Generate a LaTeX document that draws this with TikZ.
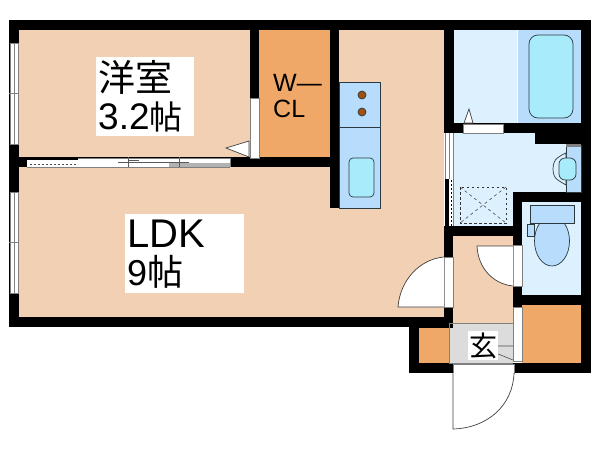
\documentclass[tikz,border=0pt]{standalone}
\usepackage{fontspec}
\setmainfont{Liberation Sans}
\newfontfamily\cjk{Noto Sans CJK JP}
\definecolor{peachc}{HTML}{F2D0B3}
\definecolor{orangec}{HTML}{F0A868}
\definecolor{paleblue}{HTML}{DCF0FE}
\definecolor{midblue}{HTML}{B8DCFB}
\definecolor{cyanc}{HTML}{A8ECFC}
\definecolor{grayc}{HTML}{DCDCDC}
\definecolor{brownc}{HTML}{A0500F}
\definecolor{linec}{HTML}{2A3A40}
\tikzstyle{wall} = [fill=black]
\tikzstyle{fixture} = [draw=linec, line width=0.7pt]
\tikzstyle{opening} = [fill=white, draw=gray, line width=0.5pt]
\tikzstyle{leaf} = [fill=white, draw=black!75, line width=0.7pt]
\tikzstyle{label} = [fill=white, inner ysep=0pt, inner xsep=2pt, anchor=north west, align=left]

\begin{document}
\begin{tikzpicture}[x=1pt, y=-1pt]
    \useasboundingbox (0,0) rectangle (600,450);
    % Rooms
    \fill[peachc] (19,30) rectangle (250,158);
    \fill[peachc] (19,167) rectangle (330,317);
    \fill[peachc] (339,30) rectangle (444,317);
    \fill[peachc] (330,208) rectangle (339,317);
    \fill[peachc] (453,236) rectangle (513,323);
    \fill[orangec] (259,30) rectangle (330,157);
    \fill[orangec] (522,305) rectangle (581,363);
    \fill[orangec] (419,328) rectangle (449,363);
    \fill[grayc] (449,323) rectangle (513,363);
    \fill[paleblue] (454,30) rectangle (518,123);
    \fill[midblue] (518,30) rectangle (581,123);
    \fill[paleblue] (454,133) rectangle (581,192);
    \fill[paleblue] (454,192) rectangle (513,226);
    \fill[paleblue] (522,202) rectangle (581,295);

    % Walls
    \path[wall] (9,20) rectangle (591,30);
    \path[wall] (9,20) rectangle (19,327);
    \path[wall] (9,317) rectangle (453,327);
    \path[wall] (19,157) rectangle (330,167);
    \path[wall] (250,30) rectangle (259,157);
    \path[wall] (330,30) rectangle (339,208);
    \path[wall] (444,30) rectangle (454,133);
    \path[wall] (444,123) rectangle (591,133);
    \path[wall] (535,133) rectangle (581,144);
    \path[wall] (581,20) rectangle (591,373);
    \path[wall] (513,192) rectangle (581,202);
    \path[wall] (513,192) rectangle (522,307);
    \path[wall] (522,295) rectangle (581,305);
    \path[wall] (444,226) rectangle (513,236);
    \path[wall] (444,226) rectangle (453,327);
    \path[wall] (409,363) rectangle (591,373);
    \path[wall] (409,327) rectangle (419,373);
    \path[wall] (409,323) rectangle (453,328);

    % Windows
    \foreach \ya/\yb in {43/144, 192/293} {
        \path[opening] (10,\ya) rectangle (18,\yb);
        \draw[gray, line width=0.5pt] (14,\ya) -- (14,\yb);
        \draw[gray, line width=0.6pt] (9,{(\ya+\yb)/2}) -- (19,{(\ya+\yb)/2});
    }

    % Sliding door of the west room
    \path[fill=white] (27,158) rectangle (230,167);
    \path[wall] (27,157) rectangle (78,160);
    \fill[gray!60] (169,163) rectangle (230,167);
    \draw[gray, line width=0.5pt] (78,158) -- (230,158) (27,167) -- (230,167) (230,158) -- (230,167);
    \draw[gray!70!black, line width=0.5pt] (118,162.5) -- (189,162.5);
    \draw[black!70, dash pattern=on 2pt off 2pt, line width=0.8pt] (30,164) -- (78,164);
    \draw[gray!70!black, line width=0.5pt] (128,157) -- (128,167) (128,160.5) -- (139,160.5);
    \draw[gray!70!black, line width=0.5pt] (179,157) -- (179,167);

    % Closet door
    \path[opening] (250,98) rectangle (259,158);
    \draw[leaf] (226,148) -- (249,141) -- (249,157) -- cycle;

    % Kitchen
    \path[fixture, fill=midblue] (339,82) rectangle (380,208);
    \draw[fixture] (339,127) -- (380,127);
    \path[fixture, fill=brownc] (362,95) circle (4);
    \path[fixture, fill=brownc] (362,112) circle (4);
    \path[fixture, fill=cyanc, rounded corners=4pt] (349,158) rectangle (374,197);

    % Bath
    \draw[white, line width=0.7pt] (517.5,30) -- (517.5,123);
    \path[fixture, fill=cyanc, rounded corners=9pt] (529,35) rectangle (573,118);
    \path[opening] (463,124) rectangle (503,133);
    \draw[leaf] (464,123) -- (469,109) -- (473,123) -- cycle;

    % Wash basin
    \path[fixture, fill=midblue] (566,145) rectangle (581,192);
    \fill[gray] (566,144) rectangle (581,147);
    \path[fixture, fill=paleblue] (566,153) .. controls (560,156) and (553,158) .. (553,169)
        .. controls (553,180) and (560,181) .. (566,185) -- cycle;
    \path[fixture, fill=cyanc, rounded corners=6pt] (559,158) rectangle (576,180);

    % Shower door and floor
    \path[fill=white] (445,133) rectangle (453,226);
    \path[wall] (445,179) rectangle (449,226);
    \draw[gray, line width=0.5pt] (445,133) -- (445,179) (449,133) -- (449,179) (453,133) -- (453,226);
    \draw[black, dash pattern=on 2pt off 2pt, line width=0.7pt] (451,180) -- (451,226);
    \draw[black!80, dash pattern=on 2.5pt off 2.5pt, line width=0.8pt] (460,187) rectangle (506,223);
    \draw[black!80, dash pattern=on 3pt off 3pt, line width=0.5pt] (460,187) -- (506,223) (506,187) -- (460,223);

    % Toilet
    \path[fixture, fill=midblue] (552,241) ellipse (17.5 and 25);
    \path[fixture, fill=midblue] (530,205) rectangle (574,223);
    \path[fixture, fill=midblue] (527,224) rectangle (534,236);

    % Doors
    \path[opening] (444,257) rectangle (453,307);
    \fill[white] (444,307) -- (398,307) .. controls (400,280) and (420,259) .. (444,257) -- cycle;
    \draw[black!75, line width=0.7pt] (444,307) -- (398,307) .. controls (400,280) and (420,259) .. (444,257);
    \path[opening] (513,245) rectangle (522,286);
    \fill[white] (513,246) -- (477,246) .. controls (478,268) and (493,284) .. (513,286) -- cycle;
    \draw[black!75, line width=0.7pt] (513,246) -- (477,246) .. controls (478,268) and (493,284) .. (513,286);
    \path[opening] (513,307) rectangle (522,361);
    \path[opening] (453,364) rectangle (514,373);
    \path[leaf] (453,373) -- (453,429) .. controls (488,428) and (513,405) .. (514,373);
    \draw[gray, line width=0.5pt] (449,323) -- (513,323) (449,323) -- (449,363) (449,363) -- (513,363);

    % Labels
    \node[label, text width=94pt, minimum height=79pt, font=\fontsize{37}{40}\selectfont] (west) at (96,57)
        {{\cjk 洋室}\\[-2pt]3.2{\cjk\fontsize{33}{40}\selectfont 帖}};
    \node[font=\fontsize{25}{26}\selectfont, align=left, anchor=north west, inner sep=0pt] (wcl) at (273,74) {W—\\CL};
    \node[label, text width=115pt, minimum height=79pt, font=\fontsize{40}{40}\selectfont] (ldk) at (125,214)
        {LDK\\[-2pt]{\fontsize{36}{40}\selectfont 9\cjk 帖}};
    \node[fill=white, minimum width=30pt, minimum height=29pt, inner sep=0pt, font=\cjk\fontsize{28}{28}\selectfont] (hall) at (483,345.5) {玄};
    \draw[black!70, line width=0.6pt] (hall.east) ++(0,0.5) -- (513,346) (hall.east) ++(0,8.5) -- (513,360);
\end{tikzpicture}
\end{document}
